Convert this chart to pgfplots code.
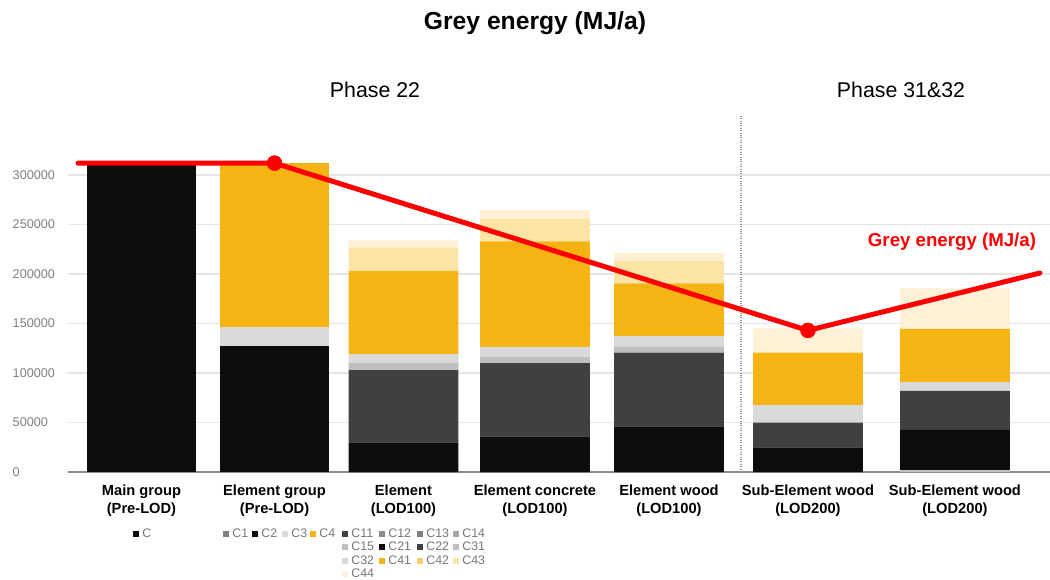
\documentclass[border=0pt]{standalone}
\usepackage{pgfplots}
\pgfplotsset{compat=1.18}
\usepackage{pgfplotstable}
\usepackage{fontspec}
\setmainfont{Liberation Sans}

\definecolor{cBlack}{HTML}{0D0D0D}
\definecolor{cDark}{HTML}{404040}
\definecolor{cMid}{HTML}{7F7F7F}
\definecolor{cMidB}{HTML}{8C8C8C}
\definecolor{cG14}{HTML}{A6A6A6}
\definecolor{cG15}{HTML}{BFBFBF}
\definecolor{cLight}{HTML}{D9D9D9}
\definecolor{cOrange}{HTML}{F5B414}
\definecolor{cO42}{HTML}{F9CD6E}
\definecolor{cO43}{HTML}{FCE3A6}
\definecolor{cO44}{HTML}{FEF1D6}
\definecolor{cRed}{HTML}{FF0000}
\definecolor{cTxt}{HTML}{767676}

\pgfplotstableread{
x      C      C1 C2     C3    C4     C11 C12 C13 C14 C15  C21   C22   C31  C32   C41    C42 C43   C44
0      312000 0  0      0     0      0   0   0   0   0    0     0     0    0     0      0   0     0
0.981  0      0  127000 19000 166000 0   0   0   0   0    0     0     0    0     0      0   0     0
1.932  0      0  0      0     0      0   0   0   0   0    30000 73000 7000 9000  84000  0   24000 7000
2.902  0      0  0      0     0      0   0   0   0   0    36000 74000 6500 10000 106500 0   23000 8500
3.890  0      0  0      0     0      0   0   0   0   0    46000 74500 6000 11000 53000  0   22500 8000
4.915  0      0  0      0     0      0   0   0   0   0    25000 25000 0    17500 53000  0   0     24500
5.999  0      0  0      0     0      0   0   0   0   2000 40500 39500 0    8700  53800  0   0     41000
}\bardata

\newcommand{\legentry}[4]{%
  \node[anchor=west, inner sep=0pt, text=cTxt, font=\fontsize{9.3}{9.3}\selectfont]
    at (#1*0.75pt, {(579-#2)*0.75pt}) {\textcolor{#3}{\rule{4.5pt}{4.5pt}}\hspace{2.3pt}#4};}

\begin{document}
\begin{tikzpicture}
\path[use as bounding box] (0,0) rectangle (787.5pt,434.25pt);

\begin{axis}[
  at={(51pt,80.25pt)}, anchor=south west,
  width=736.5pt, height=267.3pt, scale only axis,
  xmin=-0.542, xmax=6.70, ymin=0, ymax=360000,
  ybar stacked, bar width=0.81,
  axis x line*=bottom, axis y line*=left,
  x axis line style={draw=black!45, line width=2pt},
  y axis line style={draw=none},
  tick style={draw=none},
  ytick={0,50000,100000,150000,200000,250000,300000},
  yticklabels={0,50000,100000,150000,200000,250000,300000},
  ymajorgrids, grid style={draw=black!10, line width=0.8pt},
  scaled y ticks=false,
  yticklabel style={anchor=west, xshift=-45pt, font=\fontsize{9.5}{10}\selectfont, text=black!50},
  xtick={0,0.981,1.932,2.902,3.890,4.915,5.999},
  xticklabels={{Main group\\(Pre-LOD)},{Element group\\(Pre-LOD)},{Element\\(LOD100)},{Element concrete\\(LOD100)},{Element wood\\(LOD100)},{Sub-Element wood\\(LOD200)},{Sub-Element wood\\(LOD200)}},
  xticklabel style={align=center, font=\bfseries\fontsize{11}{13.5}\selectfont, yshift=-6pt},
]
\addplot[draw=none, fill=cBlack] table[x=x,y=C]{\bardata};
\addplot[draw=none, fill=cMid] table[x=x,y=C1]{\bardata};
\addplot[draw=none, fill=cBlack] table[x=x,y=C2]{\bardata};
\addplot[draw=none, fill=cLight] table[x=x,y=C3]{\bardata};
\addplot[draw=none, fill=cOrange] table[x=x,y=C4]{\bardata};
\addplot[draw=none, fill=cDark] table[x=x,y=C11]{\bardata};
\addplot[draw=none, fill=cMidB] table[x=x,y=C12]{\bardata};
\addplot[draw=none, fill=cMid] table[x=x,y=C13]{\bardata};
\addplot[draw=none, fill=cG14] table[x=x,y=C14]{\bardata};
\addplot[draw=none, fill=cG15] table[x=x,y=C15]{\bardata};
\addplot[draw=none, fill=cBlack] table[x=x,y=C21]{\bardata};
\addplot[draw=none, fill=cDark] table[x=x,y=C22]{\bardata};
\addplot[draw=none, fill=cG15] table[x=x,y=C31]{\bardata};
\addplot[draw=none, fill=cLight] table[x=x,y=C32]{\bardata};
\addplot[draw=none, fill=cOrange] table[x=x,y=C41]{\bardata};
\addplot[draw=none, fill=cO42] table[x=x,y=C42]{\bardata};
\addplot[draw=none, fill=cO43] table[x=x,y=C43]{\bardata};
\addplot[draw=none, fill=cO44] table[x=x,y=C44]{\bardata};
\end{axis}

\begin{axis}[
  at={(51pt,80.25pt)}, anchor=south west,
  width=736.5pt, height=267.3pt, scale only axis,
  xmin=-0.542, xmax=6.70, ymin=0, ymax=360000,
  hide axis, clip=false,
]
\addplot[draw=black!40, densely dotted, line width=0.8pt] coordinates {(4.421,0) (4.421,360000)};
\addplot[cRed, line width=3.75pt, mark=none, line cap=round, line join=round] coordinates {(-0.468,312000) (0.981,312000) (4.915,143000) (6.626,201000)};
\addplot[cRed, only marks, mark=*, mark size=5.6pt] coordinates {(0.981,312000) (4.915,143000)};
\end{axis}

% titles
\node[font=\bfseries\fontsize{18.5}{20}\selectfont] at (401.25pt,416.5pt) {Grey energy (MJ/a)};
\node[font=\fontsize{16}{18}\selectfont] at (281.25pt,366.75pt) {Phase 22};
\node[font=\fontsize{16}{18}\selectfont] at (675.75pt,366.75pt) {Phase 31\&32};
\node[font=\bfseries\fontsize{14}{16}\selectfont, text=cRed] at (714pt,252.75pt) {Grey energy (MJ/a)};

% legends
\legentry{133}{533}{cBlack}{C}
\legentry{223}{533}{cMid}{C1}
\legentry{252}{533}{cBlack}{C2}
\legentry{282}{533}{cLight}{C3}
\legentry{310}{533}{cOrange}{C4}
\legentry{342}{533}{cDark}{C11}
\legentry{379}{533}{cMidB}{C12}
\legentry{417}{533}{cMid}{C13}
\legentry{453}{533}{cG14}{C14}
\legentry{342}{546}{cG15}{C15}
\legentry{379}{546}{cBlack}{C21}
\legentry{417}{546}{cDark}{C22}
\legentry{453}{546}{cG15}{C31}
\legentry{342}{560}{cLight}{C32}
\legentry{379}{560}{cOrange}{C41}
\legentry{417}{560}{cO42}{C42}
\legentry{453}{560}{cO43}{C43}
\legentry{342}{573}{cO44}{C44}
\end{tikzpicture}
\end{document}
